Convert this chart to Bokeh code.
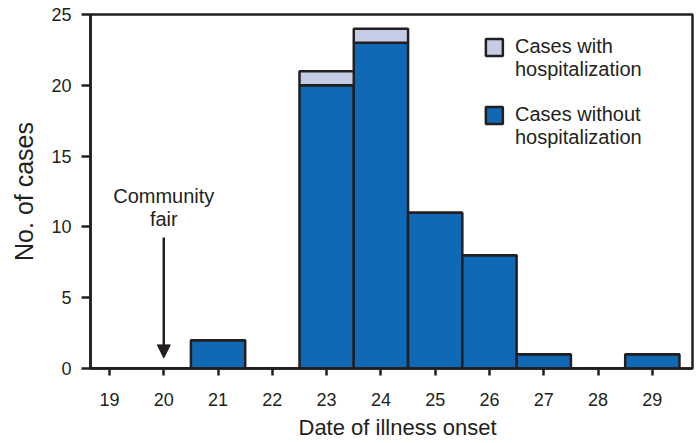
from bokeh.plotting import figure
from bokeh.models import Range1d, FixedTicker, Label, Arrow, NormalHead, ColumnDataSource, Title
from bokeh.embed import file_html
from bokeh.resources import INLINE

# ---- data ----
dates = [19, 20, 21, 22, 23, 24, 25, 26, 27, 28, 29]
without_hosp = [0, 0, 2, 0, 20, 23, 11, 8, 1, 0, 1]
with_hosp = [0, 0, 0, 0, 1, 1, 0, 0, 0, 0, 0]
y_ticks = [0, 5, 10, 15, 20, 25]
series_names = ["Cases without hospitalization", "Cases with hospitalization"]

DARK = "#231F20"
BLUE = "#0F69B4"
LIGHT = "#C5CDE6"
FONT = "Liberation Sans"

src = ColumnDataSource(dict(date=dates, without=without_hosp, withh=with_hosp))

p = figure(width=700, height=443,
           x_range=Range1d(18.65, 29.74), y_range=Range1d(0, 25),
           output_backend="svg", toolbar_location=None,
           min_border_left=90, min_border_right=8, min_border_top=14, min_border_bottom=75)
p.background_fill_color = "white"
p.border_fill_color = "white"
p.outline_line_color = DARK
p.outline_line_width = 2.5
p.xgrid.visible = False
p.ygrid.visible = False

p.vbar_stack(["without", "withh"], x="date", width=1, source=src,
             fill_color=[BLUE, LIGHT], line_color=DARK, line_width=2.5)

# axes
for ax in (p.xaxis[0], p.yaxis[0]):
    ax.axis_line_color = DARK
    ax.axis_line_width = 2.5
    ax.major_tick_line_color = DARK
    ax.major_tick_line_width = 2.5
    ax.major_tick_in = 0
    ax.minor_tick_line_color = None
    ax.major_label_text_font = FONT
    ax.major_label_text_color = DARK
    ax.major_label_text_font_size = "18px"
    ax.axis_label_text_font = FONT
    ax.axis_label_text_font_style = "normal"
    ax.axis_label_text_color = DARK

p.xaxis.ticker = FixedTicker(ticks=dates)
p.xaxis.major_tick_out = 7
p.xaxis.major_label_standoff = 17

p.yaxis.ticker = FixedTicker(ticks=y_ticks)
p.yaxis.major_tick_out = 9
p.yaxis.major_label_standoff = 10
p.yaxis.axis_label = "No. of cases"
p.yaxis.axis_label_text_font_size = "25px"
p.yaxis.axis_label_standoff = 10

# x-axis title, slightly right of centre as in the reference
p.add_layout(Title(text="Date of illness onset", align="left", offset=208,
                   text_font=FONT, text_font_style="normal", text_font_size="22px",
                   text_color=DARK, standoff=8), "below")

# annotation: community fair
for txt, yy in (("Community", 12.2), ("fair", 10.55)):
    p.add_layout(Label(x=20, y=yy, text=txt, text_align="center", text_baseline="middle",
                       text_font=FONT, text_font_size="20px", text_color=DARK))
p.add_layout(Arrow(end=NormalHead(size=13, fill_color=DARK, line_color=DARK, line_width=1),
                   x_start=20, y_start=9.25, x_end=20, y_end=0.75,
                   line_color=DARK, line_width=2.5))

# legend (manual)
leg = [(LIGHT, 22.67, ["Cases with", "hospitalization"]),
       (BLUE, 17.87, ["Cases without", "hospitalization"])]
for col, yy, lines in leg:
    p.scatter(x=[26.09], y=[yy], marker="square", size=17, fill_color=col,
              line_color=DARK, line_width=2.5)
    p.add_layout(Label(x=26.47, y=yy + 0.1, text=lines[0], text_align="left", text_baseline="middle",
                       text_font=FONT, text_font_size="20px", text_color=DARK))
    p.add_layout(Label(x=26.47, y=yy - 1.5, text=lines[1], text_align="left", text_baseline="middle",
                       text_font=FONT, text_font_size="20px", text_color=DARK))

open("out.html", "w").write(file_html(p, INLINE))
